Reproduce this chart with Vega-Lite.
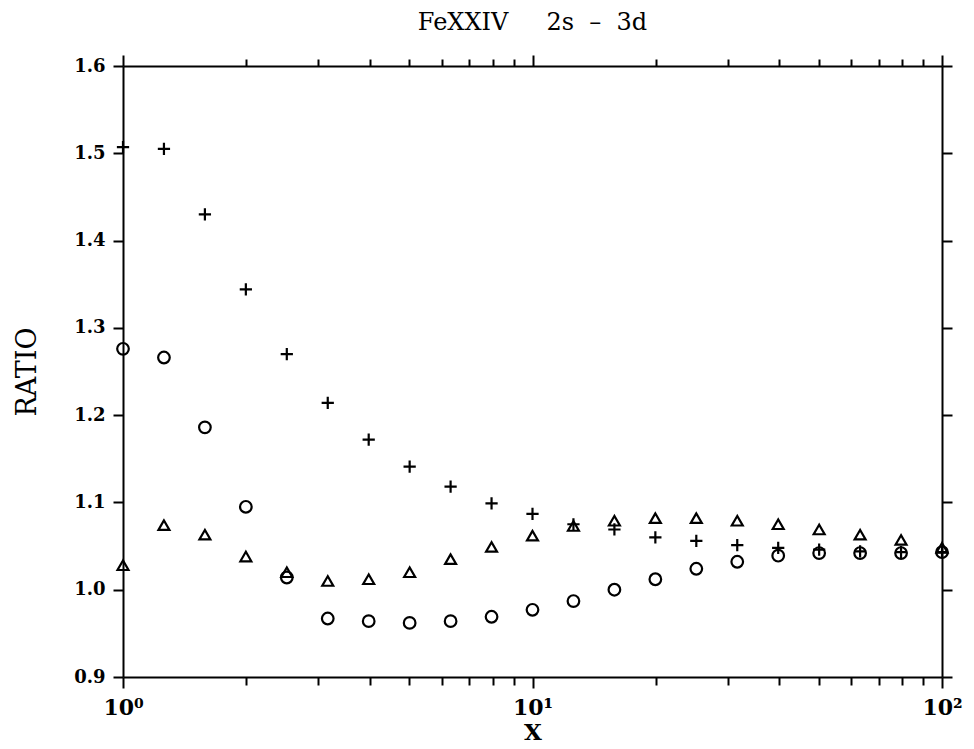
{
  "$schema": "https://vega.github.io/schema/vega-lite/v6.json",
  "width": 819,
  "height": 611,
  "autosize": {"type": "none"},
  "padding": {"left": 123, "top": 66, "right": 32, "bottom": 72},
  "background": "white",
  "title": {
    "text": "FeXXIV\u00a0\u00a0\u00a0\u00a0 2s\u00a0\u00a0–\u00a0\u00a03d",
    "font": "DejaVu Serif",
    "fontSize": 24,
    "fontWeight": "normal",
    "color": "black",
    "anchor": "middle",
    "offset": 19
  },
  "config": {
    "view": {"stroke": null},
    "axis": {
      "domainColor": "black",
      "domainWidth": 2,
      "tickColor": "black",
      "tickWidth": 2,
      "grid": false,
      "labelColor": "black",
      "titleColor": "black"
    }
  },
  "data": {
    "values": [
      {"x": 1, "y": 1.507, "s": "plus"},
      {"x": 1.2589, "y": 1.505, "s": "plus"},
      {"x": 1.5849, "y": 1.43, "s": "plus"},
      {"x": 1.9953, "y": 1.344, "s": "plus"},
      {"x": 2.5119, "y": 1.27, "s": "plus"},
      {"x": 3.1623, "y": 1.214, "s": "plus"},
      {"x": 3.9811, "y": 1.172, "s": "plus"},
      {"x": 5.0119, "y": 1.141, "s": "plus"},
      {"x": 6.3096, "y": 1.118, "s": "plus"},
      {"x": 7.9433, "y": 1.099, "s": "plus"},
      {"x": 10, "y": 1.087, "s": "plus"},
      {"x": 12.589, "y": 1.075, "s": "plus"},
      {"x": 15.849, "y": 1.069, "s": "plus"},
      {"x": 19.953, "y": 1.06, "s": "plus"},
      {"x": 25.119, "y": 1.056, "s": "plus"},
      {"x": 31.623, "y": 1.051, "s": "plus"},
      {"x": 39.811, "y": 1.048, "s": "plus"},
      {"x": 50.119, "y": 1.046, "s": "plus"},
      {"x": 63.096, "y": 1.044, "s": "plus"},
      {"x": 79.433, "y": 1.043, "s": "plus"},
      {"x": 100, "y": 1.043, "s": "plus"},
      {"x": 1, "y": 1.276, "s": "circle"},
      {"x": 1.2589, "y": 1.266, "s": "circle"},
      {"x": 1.5849, "y": 1.186, "s": "circle"},
      {"x": 1.9953, "y": 1.095, "s": "circle"},
      {"x": 2.5119, "y": 1.014, "s": "circle"},
      {"x": 3.1623, "y": 0.967, "s": "circle"},
      {"x": 3.9811, "y": 0.964, "s": "circle"},
      {"x": 5.0119, "y": 0.962, "s": "circle"},
      {"x": 6.3096, "y": 0.964, "s": "circle"},
      {"x": 7.9433, "y": 0.969, "s": "circle"},
      {"x": 10, "y": 0.977, "s": "circle"},
      {"x": 12.589, "y": 0.987, "s": "circle"},
      {"x": 15.849, "y": 1.0, "s": "circle"},
      {"x": 19.953, "y": 1.012, "s": "circle"},
      {"x": 25.119, "y": 1.024, "s": "circle"},
      {"x": 31.623, "y": 1.032, "s": "circle"},
      {"x": 39.811, "y": 1.039, "s": "circle"},
      {"x": 50.119, "y": 1.042, "s": "circle"},
      {"x": 63.096, "y": 1.042, "s": "circle"},
      {"x": 79.433, "y": 1.042, "s": "circle"},
      {"x": 100, "y": 1.043, "s": "circle"},
      {"x": 1, "y": 1.028, "s": "triangle"},
      {"x": 1.2589, "y": 1.074, "s": "triangle"},
      {"x": 1.5849, "y": 1.063, "s": "triangle"},
      {"x": 1.9953, "y": 1.038, "s": "triangle"},
      {"x": 2.5119, "y": 1.02, "s": "triangle"},
      {"x": 3.1623, "y": 1.01, "s": "triangle"},
      {"x": 3.9811, "y": 1.012, "s": "triangle"},
      {"x": 5.0119, "y": 1.02, "s": "triangle"},
      {"x": 6.3096, "y": 1.035, "s": "triangle"},
      {"x": 7.9433, "y": 1.049, "s": "triangle"},
      {"x": 10, "y": 1.062, "s": "triangle"},
      {"x": 12.589, "y": 1.073, "s": "triangle"},
      {"x": 15.849, "y": 1.079, "s": "triangle"},
      {"x": 19.953, "y": 1.082, "s": "triangle"},
      {"x": 25.119, "y": 1.082, "s": "triangle"},
      {"x": 31.623, "y": 1.079, "s": "triangle"},
      {"x": 39.811, "y": 1.075, "s": "triangle"},
      {"x": 50.119, "y": 1.069, "s": "triangle"},
      {"x": 63.096, "y": 1.063, "s": "triangle"},
      {"x": 79.433, "y": 1.057, "s": "triangle"},
      {"x": 100, "y": 1.048, "s": "triangle"}
    ]
  },
  "layer": [
    {
      "mark": {"type": "point", "filled": false, "strokeWidth": 2.2, "opacity": 1, "color": "black"},
      "encoding": {
        "x": {
          "field": "x",
          "type": "quantitative",
          "scale": {"type": "log", "domain": [1, 100], "nice": false},
          "axis": {
            "orient": "bottom",
            "title": "X",
            "titleFont": "DejaVu Serif",
            "titleFontSize": 23,
            "titleFontWeight": "bold",
            "titlePadding": 3,
            "values": [1, 2, 3, 4, 5, 6, 7, 8, 9, 10, 20, 30, 40, 50, 60, 70, 80, 90, 100],
            "labelExpr": "datum.value == 1 ? '10⁰' : datum.value == 10 ? '10¹' : datum.value == 100 ? '10²' : ''",
            "labelFont": "DejaVu Serif",
            "labelFontSize": 22,
            "labelFontWeight": "bold",
            "labelPadding": 9,
            "labelOverlap": false,
            "labelFlush": false,
            "tickSize": {"condition": {"test": "datum.value == 1 || datum.value == 10 || datum.value == 100", "value": 11}, "value": 8}
          }
        },
        "y": {
          "field": "y",
          "type": "quantitative",
          "scale": {"domain": [0.9, 1.6], "nice": false, "zero": false},
          "axis": {
            "orient": "left",
            "title": "RATIO",
            "titleFont": "DejaVu Serif",
            "titleFontSize": 27,
            "titleFontWeight": "normal",
            "titlePadding": 32,
            "values": [0.9, 1.0, 1.1, 1.2, 1.3, 1.4, 1.5, 1.6],
            "format": ".1f",
            "labelFont": "DejaVu Serif",
            "labelFontSize": 18,
            "labelFontWeight": "bold",
            "labelPadding": 8,
            "tickSize": 10
          }
        },
        "shape": {
          "field": "s",
          "type": "nominal",
          "scale": {"domain": ["plus", "circle", "triangle"], "range": ["M-1,0H1M0,-1V1", "circle", "triangle-up"]},
          "legend": null
        },
        "size": {
          "field": "s",
          "type": "nominal",
          "scale": {"domain": ["plus", "circle", "triangle"], "range": [150, 120, 110]},
          "legend": null
        }
      }
    },
    {
      "mark": {"type": "point", "opacity": 0},
      "encoding": {
        "x": {
          "field": "x",
          "type": "quantitative",
          "scale": {"type": "log", "domain": [1, 100], "nice": false},
          "axis": {
            "orient": "top",
            "title": null,
            "values": [1, 2, 3, 4, 5, 6, 7, 8, 9, 10, 20, 30, 40, 50, 60, 70, 80, 90, 100],
            "labels": false,
            "tickSize": {"condition": {"test": "datum.value == 1 || datum.value == 10 || datum.value == 100", "value": 11}, "value": 7}
          }
        },
        "y": {
          "field": "y",
          "type": "quantitative",
          "scale": {"domain": [0.9, 1.6], "nice": false, "zero": false},
          "axis": {
            "orient": "right",
            "title": null,
            "values": [0.9, 1.0, 1.1, 1.2, 1.3, 1.4, 1.5, 1.6],
            "labels": false,
            "tickSize": 10
          }
        }
      }
    }
  ],
  "resolve": {"axis": {"x": "independent", "y": "independent"}}
}
